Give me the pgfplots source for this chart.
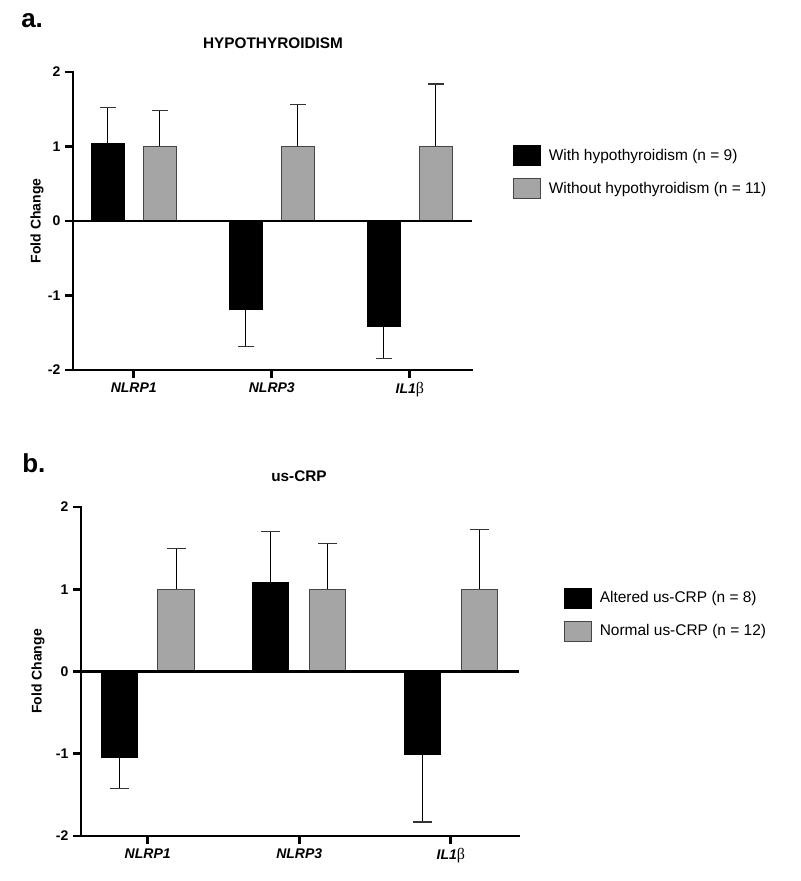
\documentclass[border=0pt]{standalone}
\usepackage{fontspec}
\setmainfont{Liberation Sans}
\newfontfamily\grk{Liberation Serif}
\usepackage{pgfplots}
\pgfplotsset{compat=1.18}
\definecolor{barg}{RGB}{165,165,165}
\definecolor{edgeg}{RGB}{70,70,70}
\pgfplotsset{
  panel/.style={
    scale only axis,
    xmin=-0.44, xmax=2.45, ymin=-2, ymax=2,
    axis lines*=left,
    axis line style={line width=2.2pt, line cap=rect},
    xtick={0,1,2}, ytick={-2,-1,0,1,2}, yticklabels={-2,-1,0,1,2},
    xticklabels={\textbf{\textit{NLRP1}}, \textbf{\textit{NLRP3}}, \textbf{\textit{IL1}}{\grk\mdseries\upshape\fontsize{12}{12}\selectfont β}},
    tick align=outside, major tick length=6pt,
    tick style={line width=2.2pt, black},
    ticklabel style={font=\fontsize{10.5}{12}\selectfont\bfseries},
    ylabel={Fold Change},
    clip=false,
    legend style={at={(1.103,0.755)}, anchor=north west, draw=none, fill=none,
      inner sep=0pt, outer sep=0pt, font=\fontsize{11.6}{13}\selectfont,
      row sep=9pt, nodes={inner sep=0pt, anchor=west},
      /tikz/every odd column/.append style={column sep=6pt}},
  },
  blackbar/.style={ybar, bar width=0.24, bar shift=0pt, fill=black, draw=black, line width=0.75pt,
    legend image code/.code={\draw[fill=black, draw=black, line width=0.75pt] (0pt,-7.5pt) rectangle (20pt,7.5pt);}},
  graybar/.style={ybar, bar width=0.24, bar shift=0pt, fill=barg, draw=edgeg, line width=0.75pt,
    legend image code/.code={\draw[fill=barg, draw=edgeg, line width=0.75pt] (0pt,-7.5pt) rectangle (20pt,7.5pt);}},
  errup/.style={draw=none, forget plot, error bars/.cd, y dir=plus, y explicit,
    error bar style={draw=black, line width=0.8pt},
    error mark options={rotate=90, draw=black!80, line width=0.9pt, mark size=#1}},
  errdn/.style={draw=none, forget plot, error bars/.cd, y dir=minus, y explicit,
    error bar style={draw=black, line width=0.8pt},
    error mark options={rotate=90, draw=black!80, line width=0.9pt, mark size=#1}},
}
\begin{document}
\begin{tikzpicture}
\path[use as bounding box] (0,0) rectangle (600pt,660.75pt);
% panel letters and titles
\node[anchor=base west, inner sep=0pt, font=\fontsize{19.5}{22}\selectfont\bfseries] at (15.75pt,639.75pt) {a.};
\node[anchor=base west, inner sep=0pt, font=\fontsize{19.5}{22}\selectfont\bfseries] at (16.5pt,306pt) {b.};
\node[anchor=base, inner sep=0pt, font=\fontsize{11.5}{13}\selectfont\bfseries] at (204.75pt,624pt) {HYPOTHYROIDISM};
\node[anchor=base, inner sep=0pt, font=\fontsize{11.5}{13}\selectfont\bfseries] at (224.25pt,299.5pt) {us-CRP};

% ---------- panel a ----------
\begin{axis}[panel, at={(54.75pt,383.25pt)}, anchor=south west,
  width=299.25pt, height=223.5pt,
  ylabel style={at={(axis description cs:-0.09,0.5)}, rotate=0, anchor=center, font=\fontsize{10.5}{12}\selectfont\bfseries}]
\addplot[blackbar] coordinates {(-0.188,1.04) (0.812,-1.19) (1.812,-1.41)};
\addlegendentry{With hypothyroidism (n = 9)}
\addplot[graybar] coordinates {(0.188,1.0) (1.188,1.0) (2.188,1.0)};
\addlegendentry{Without hypothyroidism (n = 11)}
\addplot[errup=6pt] coordinates {(-0.188,1.04) +- (0,0.48) (0.188,1.0) +- (0,0.48) (1.188,1.0) +- (0,0.56) (2.188,1.0) +- (0,0.84)};
\addplot[errdn=6pt] coordinates {(0.812,-1.19) +- (0,0.49) (1.812,-1.41) +- (0,0.44)};
\draw[line width=2.2pt] (axis cs:-0.44,0) -- (axis cs:2.45,0);
\end{axis}

% ---------- panel b ----------
\begin{axis}[panel, at={(60.75pt,33.75pt)}, anchor=south west,
  width=328.5pt, height=246.75pt,
  ylabel style={at={(axis description cs:-0.098,0.5)}, rotate=0, anchor=center, font=\fontsize{10.5}{12}\selectfont\bfseries}]
\addplot[blackbar] coordinates {(-0.188,-1.045) (0.812,1.08) (1.812,-1.01)};
\addlegendentry{Altered us-CRP (n = 8)}
\addplot[graybar] coordinates {(0.188,1.0) (1.188,1.0) (2.188,1.0)};
\addlegendentry{Normal us-CRP (n = 12)}
\addplot[errup=7pt] coordinates {(0.188,1.0) +- (0,0.50) (0.812,1.08) +- (0,0.62) (1.188,1.0) +- (0,0.56) (2.188,1.0) +- (0,0.73)};
\addplot[errdn=7pt] coordinates {(-0.188,-1.045) +- (0,0.375) (1.812,-1.01) +- (0,0.82)};
\draw[line width=2.2pt] (axis cs:-0.44,0) -- (axis cs:2.45,0);
\end{axis}
\end{tikzpicture}
\end{document}
